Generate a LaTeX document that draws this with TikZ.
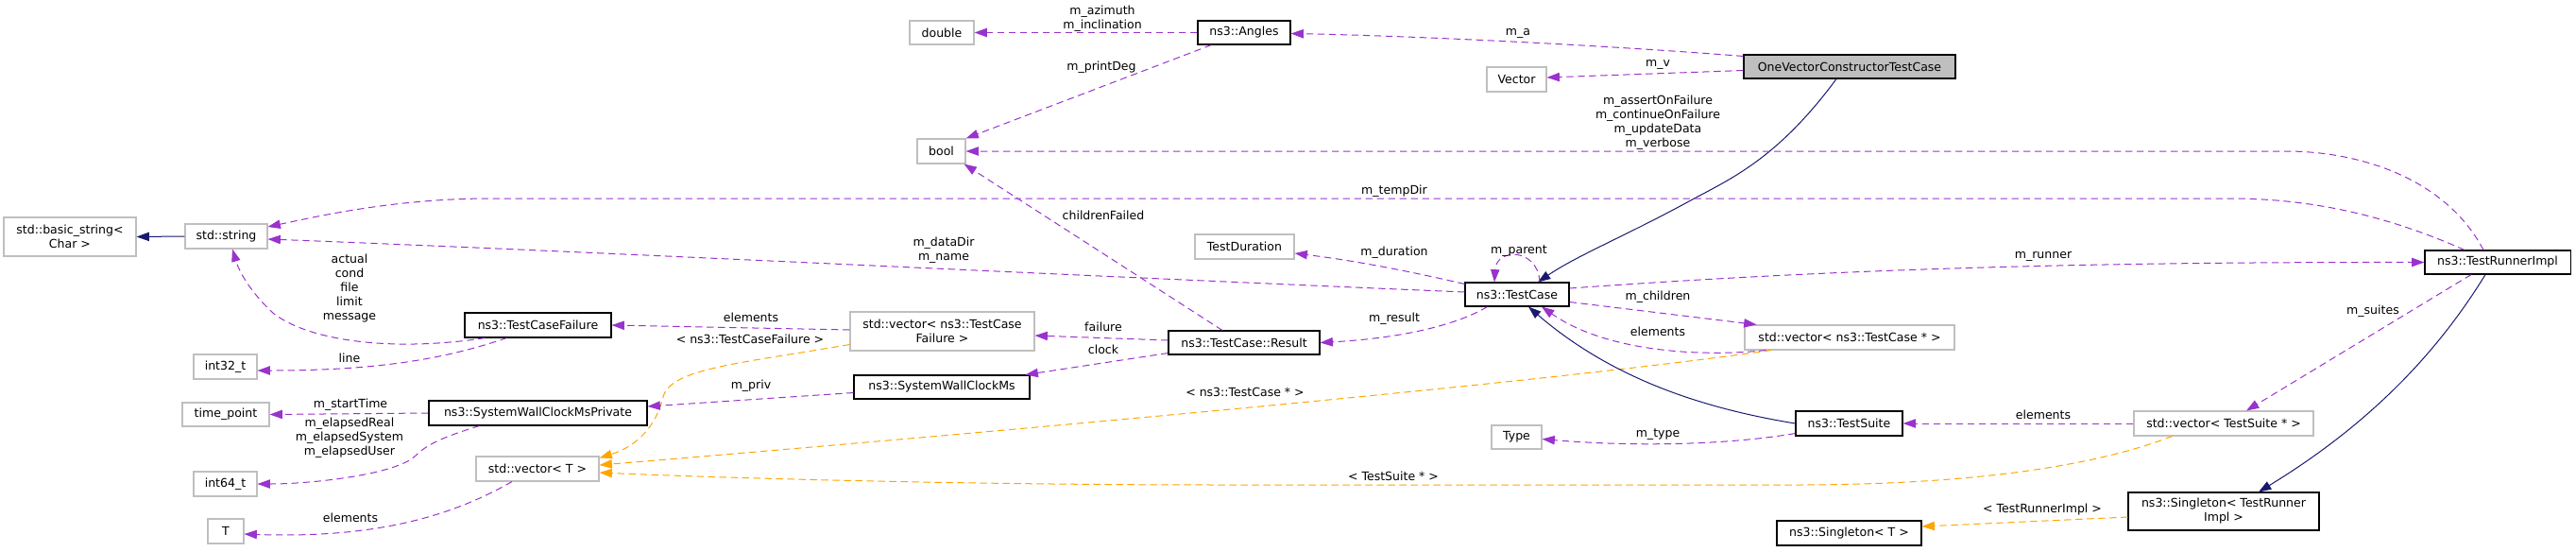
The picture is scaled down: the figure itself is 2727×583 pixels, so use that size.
\documentclass[tikz,border=0pt]{standalone}
\usepackage{fontspec}
\setmainfont{DejaVu Sans}
\usetikzlibrary{arrows.meta}
\definecolor{purp}{HTML}{9A32CD}
\definecolor{orng}{HTML}{FFA500}
\definecolor{mblue}{HTML}{191970}
\definecolor{gborder}{HTML}{BFBFBF}
\definecolor{gfill}{HTML}{BFBFBF}
\newcommand\mybox[7]{%
  \pgfmathsetmacro\myw{(#5-#3)*0.75}%
  \pgfmathsetmacro\myh{(#6-#4)*0.75}%
  \node[#2, minimum width=\myw pt, minimum height=\myh pt] (#1) at ({(#3+#5)/2},{(#4+#6)/2}) {#7};}
\tikzset{
  base/.style={inner sep=0pt, align=center, font=\fontsize{9.4}{11.25}\selectfont, line width=0.8pt},
  gbox/.style={base, draw=gborder, fill=white},
  bbox/.style={base, draw=black, fill=white},
  mainbox/.style={base, draw=black, fill=gfill},
  lbl/.style={inner sep=0pt, align=center, font=\fontsize{9.4}{11.25}\selectfont},
  tip/.style={-{Triangle[length=10pt,width=7pt]}},
  mem/.style={draw=purp, line width=0.75pt, dash pattern=on 5.5pt off 3.5pt, tip},
  tmpl/.style={draw=orng, line width=0.75pt, dash pattern=on 5.5pt off 3.5pt, tip},
  inh/.style={draw=mblue, line width=0.75pt, tip},
}
\begin{document}
\begin{tikzpicture}[x=0.75pt,y=-0.75pt]
\useasboundingbox (0,0) rectangle (2727,583);
% nodes
\mybox{bstr}{gbox}{4}{230}{144}{271}{std::basic\_string<\\Char >}
\mybox{str}{gbox}{196}{237}{283}{263}{std::string}
\mybox{tcf}{bbox}{492}{331}{647}{357}{ns3::TestCaseFailure}
\mybox{i32}{gbox}{205}{375}{272}{401}{int32\_t}
\mybox{tp}{gbox}{193}{426}{285}{451}{time\_point}
\mybox{swcp}{bbox}{454}{424}{685}{450}{ns3::SystemWallClockMsPrivate}
\mybox{vecT}{gbox}{504}{483}{634}{509}{std::vector< T >}
\mybox{i64}{gbox}{205}{499}{272}{525}{int64\_t}
\mybox{T}{gbox}{220}{549}{258}{575}{T}
\mybox{dbl}{gbox}{963}{22}{1031}{47}{double}
\mybox{ang}{bbox}{1268}{22}{1366}{47}{ns3::Angles}
\mybox{bool}{gbox}{971}{147}{1022}{173}{bool}
\mybox{tdur}{gbox}{1265}{248}{1370}{274}{TestDuration}
\mybox{vtcf}{gbox}{900}{330}{1095}{371}{std::vector< ns3::TestCase\\Failure >}
\mybox{res}{bbox}{1237}{350}{1397}{375}{ns3::TestCase::Result}
\mybox{swc}{bbox}{904}{397}{1090}{422}{ns3::SystemWallClockMs}
\mybox{ovc}{mainbox}{1846}{58}{2070}{83}{OneVectorConstructorTestCase}
\mybox{vec}{gbox}{1574}{71}{1637}{97}{Vector}
\mybox{tc}{bbox}{1551}{299}{1661}{324}{ns3::TestCase}
\mybox{vtc}{gbox}{1847}{344}{2069}{370}{std::vector< ns3::TestCase * >}
\mybox{ts}{bbox}{1901}{435}{2014}{461}{ns3::TestSuite}
\mybox{type}{gbox}{1579}{450}{1632}{475}{Type}
\mybox{sgT}{bbox}{1881}{551}{2034}{577}{ns3::Singleton< T >}
\mybox{tri}{bbox}{2567}{265}{2721}{290}{ns3::TestRunnerImpl}
\mybox{vts}{gbox}{2259}{435}{2449}{461}{std::vector< TestSuite * >}
\mybox{sgTR}{bbox}{2253}{521}{2455}{561}{ns3::Singleton< TestRunner\\Impl >}
% connectors
\draw[inh] (str.west) -- (bstr.east);
\draw[mem] (ang.west) -- (dbl.east);
\draw[mem] ([shift={(15,0)}]ang.south west) -- (bool.north east);
\draw[mem] ([shift={(0,2)}]ovc.north west) .. controls (1700,48) and (1500,38) .. ([shift={(0,1)}]ang.east);
\draw[mem] ([shift={(0,4)}]ovc.west) -- ([shift={(0,-2)}]vec.east);
\draw[inh] ([shift={(-14,0)}]ovc.south) .. controls (1880,170) and (1830,190) .. (1788,213) .. controls (1720,250) and (1670,270) .. ([shift={(22,0)}]tc.north);
\draw[mem] ([shift={(-15,0)}]tri.north) .. controls (2590,190) and (2500,160) .. (2420,160) -- (bool.east);
\draw[mem] ([shift={(-35,0)}]tri.north) .. controls (2520,225) and (2440,210) .. (2360,210) -- (520,210) .. controls (420,210) and (340,228) .. ([shift={(0,-10)}]str.east);
\draw[mem] ([shift={(0,-2.5)}]tc.west) .. controls (1100,290) and (600,265) .. ([shift={(0,3)}]str.east);
\draw[mem] ([shift={(-23,0)}]res.north) -- ([shift={(-2,0)}]bool.south east);
\draw[mem] ([shift={(0,2)}]tc.north west) .. controls (1470,282) and (1420,274) .. ([shift={(0,7)}]tdur.east);
\draw[mem] ([shift={(24,0)}]tc.north) .. controls (1628,262) and (1584,262) .. ([shift={(-24,0)}]tc.north);
\draw[mem] ([shift={(0,-6.5)}]tc.east) .. controls (1900,288) and (2150,277) .. (tri.west);
\draw[mem] ([shift={(24,0)}]tc.south west) .. controls (1540,345) and (1480,358) .. (res.east);
\draw[mem] ([shift={(0,8)}]tc.east) -- ([shift={(13,0)}]vtc.north west);
\draw[mem] ([shift={(23,0)}]vtc.south west) .. controls (1800,378) and (1700,372) .. ([shift={(26,0)}]tc.south);
\draw[mem] ([shift={(0,-2.5)}]res.west) -- ([shift={(0,4.5)}]vtcf.east);
\draw[mem] ([shift={(0,-2)}]res.south west) -- ([shift={(-5,0)}]swc.north east);
\draw[mem] ([shift={(0,-1.5)}]vtcf.west) -- (tcf.east);
\draw[tmpl] ([shift={(0,14)}]vtcf.west) .. controls (780,385) and (710,390) .. (702,420) .. controls (692,460) and (665,475) .. ([shift={(0,2)}]vecT.north east);
\draw[mem] ([shift={(-56,0)}]tcf.south) .. controls (420,372) and (330,362) .. (290,332) .. controls (268,312) and (254,290) .. ([shift={(6.5,0)}]str.south);
\draw[mem] ([shift={(-33,0)}]tcf.south) .. controls (470,380) and (400,392) .. ([shift={(0,4)}]i32.east);
\draw[mem] ([shift={(0,6)}]swc.west) -- ([shift={(0,-7)}]swcp.east);
\draw[mem] (swcp.west) -- (tp.east);
\draw[mem] ([shift={(-62,0)}]swcp.south) .. controls (470,462) and (452,470) .. (440,482) .. controls (420,502) and (330,512) .. (i64.east);
\draw[mem] ([shift={(-27,0)}]vecT.south) .. controls (480,545) and (400,570) .. ([shift={(0,3)}]T.east);
\draw[tmpl] ([shift={(-83,0)}]vtc.south) .. controls (1600,410) and (900,470) .. ([shift={(0,-4)}]vecT.east);
\draw[tmpl] ([shift={(41,0)}]vts.south west) .. controls (2200,500) and (2050,513) .. (1900,513) -- (1300,513) .. controls (1000,513) and (750,505) .. ([shift={(0,4)}]vecT.east);
\draw[inh] (ts.west) .. controls (1790,430) and (1700,395) .. ([shift={(12,0)}]tc.south);
\draw[mem] ([shift={(0,-3)}]ts.south west) .. controls (1820,472) and (1720,472) .. ([shift={(0,2)}]type.east);
\draw[mem] (vts.west) -- (ts.east);
\draw[mem] ([shift={(-28,0)}]tri.south) -- ([shift={(24,0)}]vts.north);
\draw[inh] ([shift={(-13,0)}]tri.south) .. controls (2570,390) and (2490,460) .. ([shift={(37,0)}]sgTR.north);
\draw[tmpl] ([shift={(0,6)}]sgTR.west) -- ([shift={(0,-7)}]sgT.east);
% labels
\node[lbl] (laz) at (1167,19.5) {m\_azimuth\\m\_inclination};
\node[lbl] (lpd) at (1166,71) {m\_printDeg};
\node[lbl] (lma) at (1607,35) {m\_a};
\node[lbl] (lmv) at (1755,68) {m\_v};
\node[lbl] (lfl) at (1755,130) {m\_assertOnFailure\\m\_continueOnFailure\\m\_updateData\\m\_verbose};
\node[lbl] (ltmp) at (1476,202) {m\_tempDir};
\node[lbl] (ldn) at (999,264.5) {m\_dataDir\\m\_name};
\node[lbl] (lcf) at (1168,228) {childrenFailed};
\node[lbl] (ldur) at (1476,267) {m\_duration};
\node[lbl] (lpar) at (1608,266) {m\_parent};
\node[lbl] (lrun) at (2163,271) {m\_runner};
\node[lbl] (lres) at (1476,337) {m\_result};
\node[lbl] (lch) at (1755,314) {m\_children};
\node[lbl] (lel1) at (1755,351) {elements};
\node[lbl] (lfail) at (1168,346) {failure};
\node[lbl] (lclk) at (1168,370) {clock};
\node[lbl] (lel2) at (795,336) {elements};
\node[lbl] (ltcf) at (794,359) {< ns3::TestCaseFailure >};
\node[lbl] (lacf) at (370,305) {actual\\cond\\file\\limit\\message};
\node[lbl] (lline) at (370,379) {line};
\node[lbl] (lpriv) at (795,408) {m\_priv};
\node[lbl] (lst) at (371,428) {m\_startTime};
\node[lbl] (lela) at (370,463.5) {m\_elapsedReal\\m\_elapsedSystem\\m\_elapsedUser};
\node[lbl] (lel3) at (371,548) {elements};
\node[lbl] (ltcs) at (1318,415) {< ns3::TestCase * >};
\node[lbl] (ltss) at (1475,504) {< TestSuite * >};
\node[lbl] (ltype) at (1755,460) {m\_type};
\node[lbl] (lel4) at (2163,439) {elements};
\node[lbl] (lsu) at (2512,329) {m\_suites};
\node[lbl] (ltri) at (2162,539) {< TestRunnerImpl >};
\end{tikzpicture}
\end{document}
